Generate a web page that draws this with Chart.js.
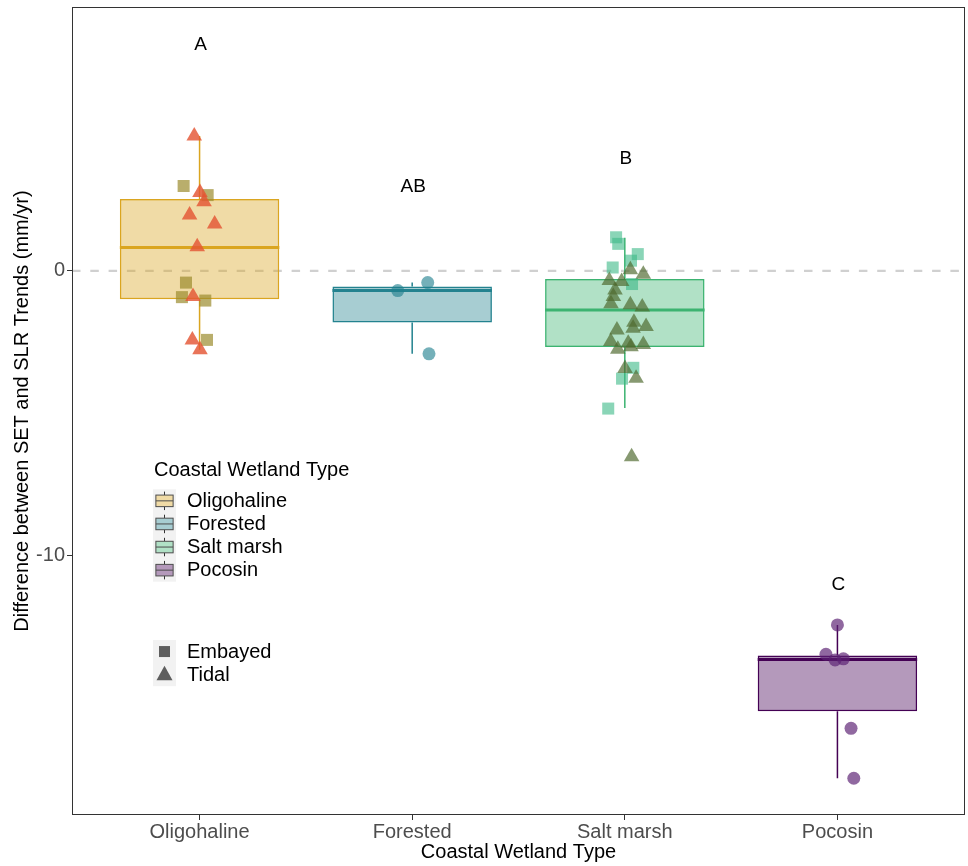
<!DOCTYPE html>
<html><head><meta charset="utf-8">
<script src="https://cdn.jsdelivr.net/npm/chart.js@4/dist/chart.umd.min.js"></script>
<style>html,body{margin:0;padding:0;background:#fff;}canvas{display:block;}</style>
</head><body>
<canvas id="c" width="968" height="866"></canvas>
<script>
// ---------- data ----------
const categories = ['Oligohaline', 'Forested', 'Salt marsh', 'Pocosin'];
const boxQ1 = [-0.99, -1.81, -2.67, -15.45];
const boxMedian = [0.82, -0.69, -1.37, -13.63];
const boxQ3 = [2.52, -0.55, -0.28, -13.49];
const whiskerLow = [-2.77, -2.91, -4.81, -17.80];
const whiskerHigh = [4.73, -0.41, 1.16, -12.42];
const groupLetters = ['A', 'AB', 'B', 'C'];
const letterY = [7.95, 2.96, 3.95, -11.02];
const yTickValues = [-10, 0];
const shapeLegend = ['Embayed', 'Tidal'];

const oligoTidalJitter = [-0.025, 0.002, 0.021, -0.047, 0.071, -0.011, -0.031, -0.034, 0.002];
const oligoTidalValues = [4.73, 2.75, 2.43, 1.96, 1.65, 0.85, -0.90, -2.42, -2.77];
const oligoEmbayedJitter = [-0.075, 0.038, -0.064, -0.083, 0.027, 0.035];
const oligoEmbayedValues = [2.98, 2.66, -0.41, -0.92, -1.04, -2.42];
const forestedJitter = [-0.068, 0.073, 0.079];
const forestedValues = [-0.69, -0.41, -2.91];
const saltEmbayedJitter = [-0.041, -0.031, 0.061, 0.029, -0.057, 0.034, 0.040, -0.013, -0.078];
const saltEmbayedValues = [1.18, 0.95, 0.59, 0.36, 0.12, -0.46, -3.40, -3.78, -4.83];
const saltTidalJitter = [0.026, 0.087, -0.073, -0.015, -0.046, -0.054, -0.065, 0.026, 0.082, 0.043, 0.100, -0.037, 0.039, -0.066, 0.016, -0.033, 0.029, 0.087, 0.001, 0.053, 0.032];
const saltTidalValues = [0.04, -0.12, -0.34, -0.37, -0.67, -0.90, -1.15, -1.19, -1.27, -1.80, -1.95, -2.07, -2.01, -2.48, -2.54, -2.75, -2.66, -2.58, -3.42, -3.77, -6.52];
const pocosinJitter = [0.000, -0.054, -0.011, 0.028, 0.064, 0.077];
const pocosinValues = [-12.42, -13.45, -13.65, -13.61, -16.05, -17.80];

// ---------- styles ----------
const boxBorder = ['#DAA520', '#23828F', '#3CB371', '#440154'];
const boxFill = ['rgba(218,165,32,0.4)', 'rgba(35,130,143,0.4)', 'rgba(60,179,113,0.4)', 'rgba(68,1,84,0.4)'];
const FONT = "'Liberation Sans', Arial, sans-serif";

function pts(catIdx, jit, vals) {
  return vals.map((v, i) => ({x: catIdx + 1 + jit[i], y: v}));
}

const zeroLine = {
  id: 'zeroLine',
  beforeDatasetsDraw(chart) {
    const {ctx, chartArea: a, scales: {y}} = chart;
    const py = y.getPixelForValue(0);
    ctx.save();
    ctx.strokeStyle = '#D0D0D0';
    ctx.lineWidth = 2.2;
    ctx.setLineDash([8.5, 9.8]);
    ctx.beginPath(); ctx.moveTo(a.left, py); ctx.lineTo(a.right, py); ctx.stroke();
    ctx.restore();
  }
};

const boxParts = {
  id: 'boxParts',
  afterDatasetDraw(chart, args) {
    if (args.meta.type !== 'bar') return;
    const {ctx, scales: {y}} = chart;
    ctx.save();
    args.meta.data.forEach((bar, i) => {
      const {x, width} = bar.getProps(['x', 'width'], true);
      ctx.strokeStyle = boxBorder[i];
      ctx.lineWidth = 1.5;
      ctx.beginPath();
      ctx.moveTo(x, y.getPixelForValue(boxQ3[i])); ctx.lineTo(x, y.getPixelForValue(whiskerHigh[i]));
      ctx.moveTo(x, y.getPixelForValue(boxQ1[i])); ctx.lineTo(x, y.getPixelForValue(whiskerLow[i]));
      ctx.stroke();
      ctx.lineWidth = 3;
      ctx.beginPath();
      const my = y.getPixelForValue(boxMedian[i]);
      ctx.moveTo(x - width / 2, my); ctx.lineTo(x + width / 2, my);
      ctx.stroke();
    });
    ctx.restore();
  }
};

const decor = {
  id: 'decor',
  afterDraw(chart) {
    const {ctx, chartArea: a, scales: {x, y}} = chart;
    ctx.save();
    // panel border
    ctx.strokeStyle = '#333333'; ctx.lineWidth = 1;
    ctx.strokeRect(a.left + 0.5, a.top + 0.5, a.right - a.left - 1, a.bottom - a.top - 1);
    // group letters
    ctx.fillStyle = '#000'; ctx.font = '19px ' + FONT;
    ctx.textAlign = 'center'; ctx.textBaseline = 'middle';
    groupLetters.forEach((t, i) => ctx.fillText(t, x.getPixelForValue(i + 1) + 1, y.getPixelForValue(letterY[i])));
    // legend: boxes
    const lx = 153, kw = 23, kh = 23.1;
    ctx.textAlign = 'left';
    ctx.font = '20px ' + FONT;
    ctx.fillText('Coastal Wetland Type', 154, 470.5);
    const top1 = 489.3;
    ctx.fillStyle = '#F2F2F2';
    ctx.fillRect(lx, top1, kw, kh * categories.length);
    categories.forEach((c, i) => {
      const ky = top1 + i * kh;
      const cx = lx + kw / 2;
      ctx.strokeStyle = '#333333';
      ctx.lineWidth = 1;
      ctx.beginPath();
      ctx.moveTo(cx, ky + kh * 0.1); ctx.lineTo(cx, ky + kh * 0.25);
      ctx.moveTo(cx, ky + kh * 0.75); ctx.lineTo(cx, ky + kh * 0.9);
      ctx.stroke();
      ctx.fillStyle = '#fff';
      ctx.fillRect(lx + kw * 0.125, ky + kh * 0.25, kw * 0.75, kh * 0.5);
      ctx.fillStyle = boxFill[i];
      ctx.fillRect(lx + kw * 0.125, ky + kh * 0.25, kw * 0.75, kh * 0.5);
      ctx.strokeStyle = '#4D4D4D';
      ctx.strokeRect(lx + kw * 0.125, ky + kh * 0.25, kw * 0.75, kh * 0.5);
      ctx.beginPath(); ctx.moveTo(lx + kw * 0.125, ky + kh / 2); ctx.lineTo(lx + kw * 0.875, ky + kh / 2); ctx.stroke();
      ctx.fillStyle = '#000';
      ctx.fillText(c, 187, ky + kh / 2 + 0.5);
    });
    // legend: shapes
    const top2 = 640;
    ctx.fillStyle = '#F2F2F2';
    ctx.fillRect(lx, top2, kw, kh * 2);
    const cx = lx + kw / 2;
    ctx.fillStyle = '#5E5E5E';
    ctx.fillRect(cx - 5.5, top2 + kh / 2 - 5.5, 11, 11);
    const ty = top2 + kh * 1.5;
    ctx.beginPath();
    ctx.moveTo(cx, ty - 9); ctx.lineTo(cx + 8, ty + 5.5); ctx.lineTo(cx - 8, ty + 5.5); ctx.closePath(); ctx.fill();
    ctx.fillStyle = '#000';
    shapeLegend.forEach((t, i) => ctx.fillText(t, 187, top2 + kh * (i + 0.5) + 0.5));
    ctx.restore();
  }
};

new Chart(document.getElementById('c'), {
  type: 'scatter',
  data: {
    datasets: [
      {label: 'Oligohaline Tidal', data: pts(0, oligoTidalJitter, oligoTidalValues), pointStyle: 'triangle', pointRadius: 9, backgroundColor: 'rgba(228,85,52,0.82)', borderWidth: 0, order: 1},
      {label: 'Oligohaline Embayed', data: pts(0, oligoEmbayedJitter, oligoEmbayedValues), pointStyle: 'rect', pointRadius: 8.5, backgroundColor: 'rgba(155,140,45,0.7)', borderWidth: 0, order: 2},
      {label: 'Forested', data: pts(1, forestedJitter, forestedValues), pointStyle: 'circle', pointRadius: 6.5, backgroundColor: 'rgba(30,128,142,0.62)', borderWidth: 0, order: 1},
      {label: 'Salt marsh Embayed', data: pts(2, saltEmbayedJitter, saltEmbayedValues), pointStyle: 'rect', pointRadius: 8.5, backgroundColor: 'rgba(60,185,135,0.6)', borderWidth: 0, order: 2},
      {label: 'Salt marsh Tidal', data: pts(2, saltTidalJitter, saltTidalValues), pointStyle: 'triangle', pointRadius: 9, backgroundColor: 'rgba(78,104,45,0.68)', borderWidth: 0, order: 1},
      {label: 'Pocosin', data: pts(3, pocosinJitter, pocosinValues), pointStyle: 'circle', pointRadius: 6.5, backgroundColor: 'rgba(92,32,115,0.68)', borderWidth: 0, order: 1},
      {type: 'bar', label: 'box', data: categories.map((c, i) => ({x: i + 1, y: [boxQ1[i], boxQ3[i]]})),
       backgroundColor: boxFill, borderColor: boxBorder, borderWidth: 1.5, borderSkipped: false,
       categoryPercentage: 1, barPercentage: 0.75, grouped: false, order: 10}
    ]
  },
  options: {
    responsive: false,
    animation: false,
    events: [],
    layout: {autoPadding: false, padding: {top: 7, right: 3, left: 0, bottom: 0}},
    plugins: {legend: {display: false}, tooltip: {enabled: false}},
    scales: {
      x: {
        type: 'linear', min: 0.4, max: 4.6, offset: false,
        afterFit: s => { s.height = 51; s.paddingLeft = 0; s.paddingRight = 0; },
        afterBuildTicks: s => { s.ticks = categories.map((c, i) => ({value: i + 1})); },
        ticks: {callback: v => categories[v - 1], color: '#4D4D4D', font: {family: FONT, size: 20, lineHeight: 1.2}, padding: 0, autoSkip: false, maxRotation: 0},
        grid: {display: true, drawOnChartArea: false, drawTicks: true, tickLength: 5, color: '#333333', lineWidth: 1, offset: false},
        border: {display: false},
        title: {display: true, text: 'Coastal Wetland Type', color: '#000', font: {family: FONT, size: 20, lineHeight: 1.2}, padding: {top: 0, bottom: 2}}
      },
      y: {
        type: 'linear', min: -19.09, max: 9.26,
        afterFit: s => { s.width = 72; s.paddingTop = 0; s.paddingBottom = 0; },
        afterBuildTicks: s => { s.ticks = yTickValues.map(v => ({value: v})); },
        ticks: {color: '#4D4D4D', font: {family: FONT, size: 20, lineHeight: 1.2}, padding: 2},
        grid: {display: true, drawOnChartArea: false, drawTicks: true, tickLength: 5, color: '#333333', lineWidth: 1},
        border: {display: false},
        title: {display: true, text: 'Difference between SET and SLR Trends (mm/yr)', color: '#000', font: {family: FONT, size: 20, lineHeight: 1.2}, padding: {top: 10, bottom: 0}}
      }
    }
  },
  plugins: [zeroLine, boxParts, decor]
});
</script>
</body></html>
